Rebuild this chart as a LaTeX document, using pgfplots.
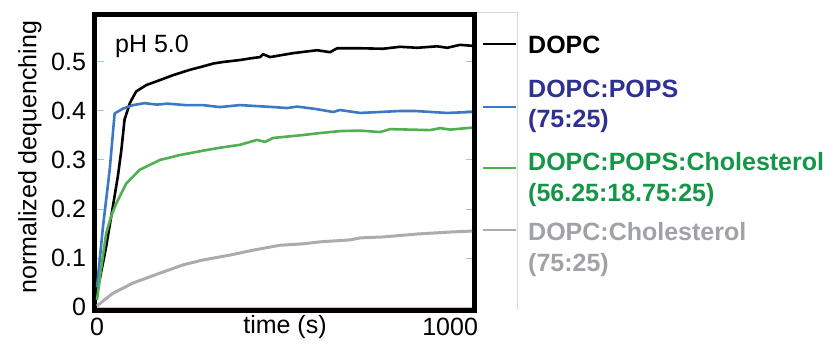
\documentclass[border=0pt]{standalone}
\usepackage{pgfplots}
\pgfplotsset{compat=1.18}
\usepackage{fontspec}
\setmainfont{Liberation Sans}
\definecolor{cblue}{RGB}{60,120,195}
\definecolor{cgreen}{RGB}{80,175,80}
\definecolor{cgray}{RGB}{172,172,172}
\definecolor{tblue}{RGB}{46,49,146}
\definecolor{tgreen}{RGB}{20,150,70}
\definecolor{tgray}{RGB}{160,162,165}
\definecolor{tickblue}{RGB}{160,195,230}
\begin{document}
\fontsize{25bp}{30bp}\selectfont
\begin{tikzpicture}[x=1bp,y=1bp]
\useasboundingbox (0,0) rectangle (840,346);
\begin{axis}[
  at={(94.5bp,36bp)}, anchor=south west,
  scale only axis, width=380bp, height=295.5bp,
  xmin=-7, xmax=1069, ymin=-0.0061, ymax=0.5969,
  xtick={0,1000}, xticklabels={0,1000},
  ytick={0,0.1,0.2,0.3,0.4,0.5}, yticklabels={0,0.1,0.2,0.3,0.4,0.5},
  /pgf/number format/assume math mode=true,
  ticklabel style={font=\fontsize{25bp}{30bp}\selectfont},
  xtick style={draw=none},
  ytick style={color=tickblue, line width=1bp},
  major tick length=9bp,
  tick align=inside,
  axis line style={line width=5bp, line cap=rect, black},
  clip=false,
]
\addplot[black, line width=2.6bp, line join=round] coordinates {
(0,0.028) (26,0.123) (45,0.205) (59,0.266) (69,0.32) (78,0.382) (93,0.416) (111,0.44)
(140,0.453) (178,0.463) (215,0.473) (263,0.484) (295,0.49) (330,0.497) (357,0.5)
(405,0.504) (440,0.508) (462,0.51) (470,0.516) (490,0.51)
(555,0.518) (623,0.524) (660,0.52) (680,0.528) (745,0.528) (810,0.527) (858,0.531)
(907,0.529) (963,0.532) (992,0.529) (1028,0.535) (1062,0.533)};
\addplot[cblue, line width=2.6bp, line join=round] coordinates {
(0,0.04) (17,0.164) (36,0.28) (50,0.395) (74,0.405) (102,0.412) (135,0.416)
(170,0.413) (200,0.415) (250,0.412) (300,0.412) (348,0.408) (405,0.412) (500,0.408)
(538,0.406) (567,0.409) (620,0.404) (669,0.398) (688,0.402) (745,0.396) (802,0.398)
(858,0.4) (900,0.4) (992,0.396) (1062,0.398)};
\addplot[cgreen, line width=2.6bp, line join=round] coordinates {
(0,0.014) (10,0.07) (26,0.15) (40,0.185) (55,0.212) (83,0.252) (121,0.28)
(178,0.3) (234,0.31) (300,0.319) (348,0.325) (405,0.331) (453,0.341) (476,0.337)
(499,0.345) (584,0.351) (632,0.355) (688,0.359) (745,0.36) (802,0.357) (830,0.363)
(943,0.361) (972,0.365) (1000,0.362) (1062,0.366)};
\addplot[cgray, line width=3bp, line join=round] coordinates {
(0,0.002) (20,0.014) (45,0.028) (102,0.049) (178,0.069) (244,0.086) (300,0.096)
(377,0.106) (442,0.116) (518,0.126) (584,0.129) (632,0.133) (717,0.137) (745,0.141)
(810,0.143) (907,0.149) (1000,0.153) (1062,0.155)};
\end{axis}
% faint line inside bottom frame
\draw[tickblue, line width=1bp] (97,39) -- (472,39);
% legend frame lines
\draw[gray!30, line width=0.8bp] (477,334) -- (517,334) -- (517,36);
% labels
\node[anchor=base west, inner sep=0] at (115,294) {pH 5.0};
\node[rotate=90, anchor=center, inner sep=0] at (30,189) {normalized dequenching};
\node[anchor=base, inner sep=0] at (285,13) {time (s)};
% legend
\draw[black, line width=2.6bp] (483,302) -- (516,302);
\draw[cblue, line width=2.6bp] (483,239) -- (516,239);
\draw[cgreen, line width=2.6bp] (483,178) -- (516,178);
\draw[cgray, line width=2.6bp] (483,116) -- (516,116);
\begin{scope}[every node/.style={anchor=base west, inner sep=0, font=\bfseries}]
\node at (528,293) {DOPC};
\node[text=tblue] at (528,249) {DOPC:POPS};
\node[text=tblue] at (528,218.5) {(75:25)};
\node[text=tgreen] at (528,176) {DOPC:POPS:Cholesterol};
\node[text=tgreen] at (528,145) {(56.25:18.75:25)};
\node[text=tgray] at (528,106) {DOPC:Cholesterol};
\node[text=tgray] at (528,75) {(75:25)};
\end{scope}
\end{tikzpicture}
\end{document}
